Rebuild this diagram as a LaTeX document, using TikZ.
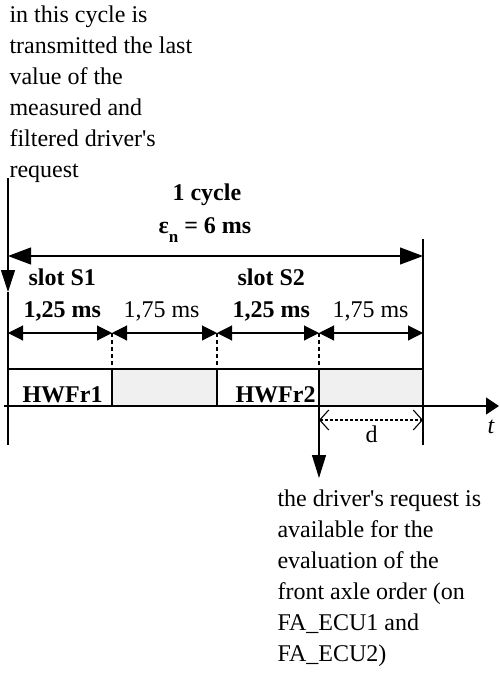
\documentclass[tikz,border=0pt]{standalone}
\usepackage{fontspec}
\setmainfont{Liberation Serif}
\usetikzlibrary{arrows.meta,positioning}

\begin{document}
\begin{tikzpicture}[x=1pt, y=-1pt, line width=1.1pt,
    txt/.style={font=\fontsize{24}{31}\selectfont, inner sep=0pt, anchor=base west},
    btxt/.style={txt, font=\fontsize{24}{31}\selectfont\bfseries},
    note/.style={font=\fontsize{24}{31}\selectfont, inner sep=0pt, align=left, anchor=north west},
    frame/.style={draw, rectangle, minimum height=37pt, outer sep=0pt, inner sep=0pt, anchor=south west},
    idle/.style={frame, fill=gray!12},
    dim/.style={{Triangle[length=15pt,width=15pt]}-{Triangle[length=15pt,width=15pt]}},
    big/.style={{Triangle[length=23pt,width=17pt]}-{Triangle[length=23pt,width=17pt]}}]

\useasboundingbox (0,0) rectangle (499,673);

% === Reference points ===
\coordinate (srcTop) at (8,178);
\coordinate (srcTip) at (8,292);
\coordinate (srcBot) at (8,445);
\coordinate (endTop) at (423,239);
\coordinate (endBot) at (423,445);
\coordinate (cycL) at (8,256);
\coordinate (cycR) at (423,256);
\coordinate (s0) at (8,333);
\coordinate (s1) at (112,333);
\coordinate (s2) at (217,333);
\coordinate (s3) at (319,333);
\coordinate (s4) at (423,333);
\coordinate (ax0) at (4,406);
\coordinate (ax1) at (499,406);
\coordinate (dL) at (319,420);
\coordinate (dR) at (423,420);
\coordinate (availTip) at (319,478);

% === Frames on the bus ===
\node[frame, minimum width=104pt] (f1) at (8,406)   {};
\node[idle,  minimum width=105pt] (f2) at (112,406) {};
\node[frame, minimum width=102pt] (f3) at (217,406) {};
\node[idle,  minimum width=104pt] (f4) at (319,406) {};
\node[btxt] (hw1) at (22,402)  {HWFr1};
\node[btxt] (hw2) at (235,402) {HWFr2};

% === Cycle and slot boundaries ===
\draw[-{Triangle[length=22pt,width=14pt]}] (srcTop) -- (srcTip);
\draw (srcTip) -- (srcBot);
\draw (endTop) -- (endBot);
\draw[big] (cycL) -- (cycR);
\draw[dim] (s0) -- (s1);
\draw[dim] (s1) -- (s2);
\draw[dim] (s2) -- (s3);
\draw[dim] (s3) -- (s4);
\draw[dash pattern=on 4pt off 3pt] (s1) -- (f1.north east);
\draw[dash pattern=on 4pt off 3pt] (s2) -- (f2.north east);
\draw[dash pattern=on 4pt off 3pt] (s3) -- (f3.north east);

% === Time axis ===
\draw[-{Triangle[length=13pt,width=17pt]}] (ax0) -- (ax1);
\node[txt, font=\fontsize{24}{31}\selectfont\itshape] (t) at (487,433) {t};

% === Delay d ===
\draw[dash pattern=on 3pt off 2pt, {Straight Barb[length=9pt,width=20pt]}-{Straight Barb[length=9pt,width=20pt]}] (dL) -- (dR);
\node[txt] (d) at (365,442) {d};
\draw[-{Triangle[length=23pt,width=14pt]}] (f4.south west) -- (availTip);

% === Labels ===
\node[btxt] (cyc) at (172,200) {1 cycle};
\node[btxt] (eps) at (158,233) {ε\raisebox{-9pt}{\fontsize{17}{17}\selectfont n} = 6 ms};
\node[btxt] (slotA) at (28,285)  {slot S1};
\node[btxt] (slotB) at (237,285) {slot S2};
\node[btxt] (durA) at (23,317)  {1,25 ms};
\node[txt]  (gapA) at (123,317) {1,75 ms};
\node[btxt] (durB) at (232,317) {1,25 ms};
\node[txt]  (gapB) at (332,317) {1,75 ms};

% === Annotations ===
\node[note] (sent) at (9,5.3) {in this cycle is\\transmitted the last\\value of the\\measured and\\filtered driver\textquotesingle s\\request};
\node[note] (avail) at (277,489.6) {the driver\textquotesingle s request is\\available for the\\evaluation of the\\front axle order (on\\FA\_ECU1 and\\FA\_ECU2)};

\end{tikzpicture}
\end{document}
